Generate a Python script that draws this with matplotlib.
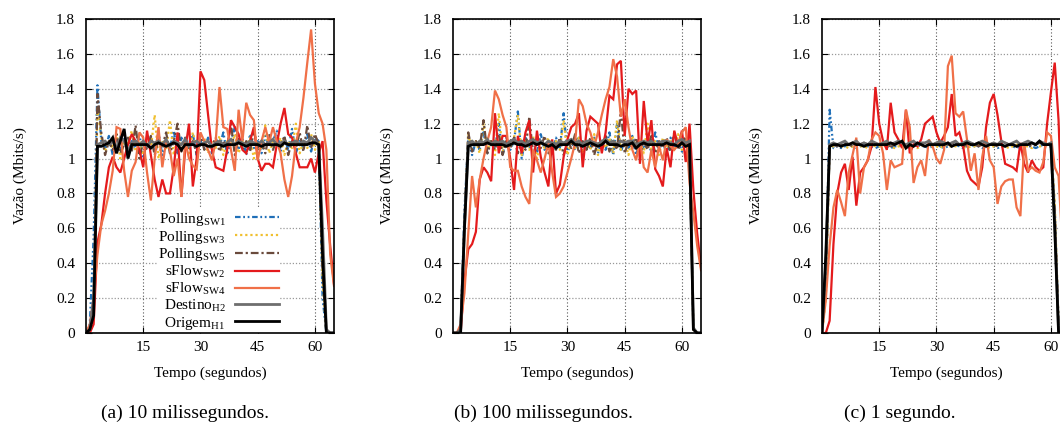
import matplotlib
matplotlib.use("Agg")
import matplotlib.pyplot as plt
from matplotlib.ticker import FuncFormatter

plt.rcParams['font.family'] = ['Liberation Serif', 'DejaVu Serif']
plt.rcParams['mathtext.fontset'] = 'custom'
plt.rcParams['mathtext.rm'] = 'Liberation Serif'
plt.rcParams['mathtext.it'] = 'Liberation Serif:italic'

# Tempo (segundos), amostras de 1 s
tempo = list(range(0, 66))

# ---- (a) 10 milissegundos ----
a_polling_sw1 = [0, 0.05, 0.55, 1.42, 1.1, 1.05, 1.13, 1.02, 1.12, 1.05, 1.15, 1.03, 1.1, 1.06, 1.14, 1.0,
                 1.08, 1.12, 1.04, 1.15, 1.02, 1.1, 1.06, 1.16, 1.03, 1.12, 1.05, 1.09, 1.14, 1.02, 1.1, 1.06,
                 1.12, 1.03, 1.11, 1.07, 1.15, 1.02, 1.1, 1.18, 1.05, 1.12, 1.02, 1.14, 1.06, 1.1, 1.03, 1.13,
                 1.07, 1.1, 1.16, 1.04, 1.12, 1.05, 1.17, 1.03, 1.1, 1.06, 1.14, 1.04, 1.12, 1.1, 0.2, 0, 0, 0]
a_polling_sw3 = [0, 0.02, 0.1, 1.3, 1.12, 1.04, 1.1, 1.06, 1.14, 1.0, 1.1, 1.08, 1.16, 1.04, 1.1, 1.02,
                 1.12, 1.06, 1.25, 1.0, 1.1, 1.05, 1.22, 1.02, 1.12, 1.06, 1.1, 1.03, 1.15, 1.05, 1.09, 1.12,
                 1.03, 1.1, 1.06, 1.13, 1.02, 1.1, 1.07, 1.14, 1.03, 1.1, 1.06, 1.12, 1.0, 1.1, 1.05, 1.19,
                 1.03, 1.1, 1.07, 1.12, 1.02, 1.1, 1.06, 1.2, 1.03, 1.1, 1.06, 1.14, 1.05, 1.1, 0.3, 0, 0, 0]
a_polling_sw5 = [0, 0.02, 0.15, 1.37, 1.15, 1.02, 1.1, 1.05, 1.14, 1.03, 1.08, 1.12, 1.04, 1.19, 1.0, 1.1,
                 1.05, 1.13, 1.02, 1.11, 1.07, 1.15, 1.03, 1.1, 1.2, 1.04, 1.12, 1.06, 1.1, 1.03, 1.14, 1.05,
                 1.1, 1.07, 1.12, 1.04, 1.1, 1.06, 1.2, 1.02, 1.12, 1.05, 1.1, 1.04, 1.16, 1.06, 1.1, 1.03,
                 1.14, 1.05, 1.11, 1.07, 1.13, 1.02, 1.1, 1.06, 1.15, 1.04, 1.19, 1.06, 1.14, 1.08, 0.35, 0, 0, 0]
a_sflow_sw2 = [0, 0, 0.05, 0.52, 0.62, 0.8, 0.95, 1.01, 0.95, 0.92, 1.0, 1.08, 1.14, 1.1, 1.05, 0.95,
               1.16, 1.02, 0.88, 0.78, 0.88, 0.8, 0.8, 0.95, 1.15, 0.78, 1.05, 1.2, 0.84, 1.0, 1.5, 1.45,
               1.25, 1.05, 0.95, 0.94, 0.93, 1.05, 1.22, 1.18, 1.14, 1.05, 1.03, 1.1, 1.18, 1.0, 0.93, 0.97,
               0.97, 0.95, 1.08, 1.2, 1.29, 1.14, 1.12, 1.03, 0.95, 0.95, 0.95, 1.0, 0.92, 1.03, 1.1, 0.76,
               0.5, 0.28]
a_sflow_sw4 = [0, 0.05, 0.2, 0.45, 0.62, 0.7, 0.8, 0.93, 1.18, 1.17, 0.93, 0.78, 0.93, 0.98, 1.15, 1.12,
               0.92, 0.76, 1.0, 1.18, 0.95, 1.1, 1.05, 0.9, 1.0, 0.78, 1.1, 1.0, 0.96, 0.94, 1.15, 1.1,
               1.05, 0.99, 1.1, 1.41, 1.18, 1.17, 1.05, 0.93, 1.28, 1.1, 1.32, 1.25, 1.22, 0.99, 1.1, 1.18,
               1.09, 1.18, 1.1, 1.03, 0.88, 0.78, 0.9, 1.09, 1.18, 1.35, 1.55, 1.74, 1.43, 1.26, 1.2, 1.05,
               0.45, 0.27]
a_destino_h2 = [0, 0.02, 0.2, 1.08, 1.09, 1.1, 1.08, 1.1, 1.06, 1.12, 1.1, 1.04, 1.09, 1.1, 1.08, 1.1,
                1.07, 1.1, 1.09, 1.1, 1.08, 1.11, 1.07, 1.1, 1.09, 1.08, 1.11, 1.07, 1.09, 1.1, 1.08, 1.09,
                1.1, 1.07, 1.09, 1.1, 1.08, 1.09, 1.11, 1.08, 1.1, 1.09, 1.08, 1.1, 1.09, 1.08, 1.1, 1.08,
                1.09, 1.11, 1.08, 1.09, 1.1, 1.08, 1.09, 1.1, 1.08, 1.1, 1.09, 1.12, 1.1, 1.08, 0.6, 0.02, 0, 0]
a_origem_h1 = [0, 0.02, 0.1, 1.07, 1.07, 1.08, 1.09, 1.12, 1.03, 1.1, 1.17, 1.0, 1.08, 1.08, 1.08, 1.08,
               1.08, 1.06, 1.08, 1.09, 1.08, 1.07, 1.08, 1.09, 1.08, 1.05, 1.08, 1.08, 1.08, 1.07, 1.08, 1.08,
               1.07, 1.07, 1.08, 1.08, 1.07, 1.08, 1.08, 1.08, 1.09, 1.08, 1.07, 1.08, 1.08, 1.08, 1.07, 1.08,
               1.08, 1.08, 1.08, 1.07, 1.09, 1.08, 1.08, 1.08, 1.08, 1.08, 1.08, 1.09, 1.09, 1.08, 0.45, 0, 0, 0]

# ---- (b) 100 milissegundos ----
b_polling_sw1 = [0, 0, 0.02, 0.7, 1.12, 1.02, 1.1, 1.05, 1.15, 1.03, 1.1, 1.06, 1.2, 1.02, 1.12, 1.05,
                 1.1, 1.27, 1.0, 1.12, 1.06, 1.1, 1.03, 1.14, 1.05, 1.1, 1.02, 1.12, 1.06, 1.26, 1.03, 1.1,
                 1.05, 1.13, 1.02, 1.1, 1.06, 1.12, 1.03, 1.1, 1.05, 1.15, 1.02, 1.2, 1.04, 1.1, 1.06, 1.13,
                 1.02, 1.1, 1.05, 1.12, 1.03, 1.15, 1.05, 1.1, 1.02, 1.12, 1.06, 1.1, 1.04, 1.12, 1.06, 0.02, 0, 0]
b_polling_sw3 = [0, 0, 0.02, 0.6, 1.14, 1.05, 1.1, 1.03, 1.2, 1.05, 1.1, 1.02, 1.26, 1.04, 1.1, 1.06,
                 1.12, 1.25, 1.02, 1.1, 1.05, 1.13, 1.0, 1.1, 1.06, 1.12, 1.03, 1.1, 1.05, 1.22, 1.02, 1.1,
                 1.06, 1.12, 1.03, 1.1, 1.05, 1.14, 1.02, 1.1, 1.06, 1.12, 1.03, 1.22, 1.05, 1.1, 1.02, 1.13,
                 1.06, 1.1, 1.03, 1.2, 1.05, 1.1, 1.02, 1.12, 1.06, 1.1, 1.04, 1.14, 1.05, 1.1, 1.06, 0.02, 0, 0]
b_polling_sw5 = [0, 0, 0.02, 0.65, 1.15, 1.04, 1.1, 1.06, 1.22, 1.03, 1.1, 1.05, 1.14, 1.02, 1.1, 1.06,
                 1.12, 1.03, 1.1, 1.05, 1.24, 1.02, 1.1, 1.06, 1.13, 1.03, 1.1, 1.05, 1.12, 1.02, 1.1, 1.06,
                 1.14, 1.03, 1.1, 1.05, 1.12, 1.02, 1.1, 1.06, 1.13, 1.04, 1.1, 1.05, 1.28, 1.03, 1.1, 1.06,
                 1.12, 1.02, 1.1, 1.05, 1.13, 1.03, 1.1, 1.06, 1.12, 1.04, 1.15, 1.05, 1.1, 1.12, 1.06, 0.02, 0, 0]
b_sflow_sw2 = [0, 0, 0, 0.3, 0.48, 0.51, 0.58, 0.88, 0.95, 0.92, 0.87, 1.26, 1.03, 1.13, 1.13, 1.0,
               0.82, 1.13, 1.03, 1.15, 1.22, 0.92, 1.16, 1.01, 0.92, 0.84, 1.11, 0.8, 0.85, 1.01, 1.11, 1.18,
               1.2, 1.26, 0.95, 1.16, 1.24, 1.22, 1.2, 1.03, 1.15, 1.36, 1.34, 1.54, 1.56, 1.13, 1.4, 1.37,
               1.39, 0.97, 1.33, 1.09, 1.22, 0.94, 0.9, 0.84, 1.06, 0.95, 1.16, 1.07, 1.16, 0.98, 1.2, 0.82,
               0.57, 0.38]
b_sflow_sw4 = [0, 0, 0.05, 0.23, 0.57, 0.9, 0.72, 0.88, 1.0, 1.1, 1.18, 1.39, 1.34, 1.25, 1.18, 0.95,
               0.93, 0.93, 0.84, 0.78, 0.74, 1.05, 0.99, 0.92, 1.0, 1.09, 0.92, 0.78, 0.8, 0.84, 0.92, 1.0,
               1.09, 1.34, 1.3, 1.2, 1.15, 1.07, 1.15, 1.25, 1.34, 1.41, 1.57, 1.47, 1.24, 1.34, 1.18, 1.05,
               0.99, 1.11, 0.95, 0.92, 1.05, 0.95, 1.07, 0.99, 1.11, 1.07, 1.05, 1.08, 1.15, 1.18, 0.86, 0.69,
               0.5, 0.36]
b_destino_h2 = [0, 0, 0.02, 0.6, 1.09, 1.1, 1.08, 1.1, 1.09, 1.11, 1.08, 1.1, 1.09, 1.1, 1.08, 1.1,
                1.11, 1.09, 1.1, 1.08, 1.1, 1.11, 1.09, 1.1, 1.08, 1.1, 1.09, 1.08, 1.1, 1.09, 1.1, 1.11,
                1.09, 1.1, 1.08, 1.1, 1.1, 1.09, 1.08, 1.1, 1.11, 1.09, 1.1, 1.08, 1.1, 1.09, 1.1, 1.1,
                1.08, 1.09, 1.1, 1.09, 1.1, 1.08, 1.09, 1.1, 1.1, 1.09, 1.08, 1.1, 1.11, 1.09, 1.1, 0.03, 0, 0]
b_origem_h1 = [0, 0, 0, 0.6, 1.07, 1.08, 1.08, 1.08, 1.08, 1.09, 1.08, 1.08, 1.08, 1.08, 1.07, 1.08,
               1.09, 1.08, 1.08, 1.07, 1.08, 1.09, 1.08, 1.09, 1.08, 1.07, 1.08, 1.06, 1.08, 1.08, 1.08, 1.1,
               1.08, 1.08, 1.07, 1.08, 1.09, 1.08, 1.07, 1.08, 1.1, 1.08, 1.08, 1.08, 1.07, 1.08, 1.08, 1.09,
               1.06, 1.08, 1.09, 1.08, 1.08, 1.08, 1.08, 1.08, 1.09, 1.08, 1.08, 1.07, 1.09, 1.07, 1.08, 0.02,
               0, 0]

# ---- (c) 1 segundo ----
c_polling_sw1 = [0, 0.3, 1.28, 1.06, 1.07, 1.06, 1.07, 1.08, 1.07, 1.06, 1.07, 1.08, 1.07, 1.07, 1.06, 1.07,
                 1.08, 1.07, 1.06, 1.07, 1.07, 1.08, 1.07, 1.06, 1.07, 1.08, 1.07, 1.07, 1.06, 1.07, 1.08, 1.07,
                 1.06, 1.07, 1.07, 1.08, 1.07, 1.06, 1.07, 1.08, 1.07, 1.07, 1.06, 1.07, 1.08, 1.07, 1.06, 1.07,
                 1.07, 1.08, 1.07, 1.06, 1.07, 1.08, 1.07, 1.07, 1.06, 1.07, 1.08, 1.07, 1.07, 0.7, 0.05, 0, 0, 0]
c_polling_sw3 = [0, 0.2, 1.07, 1.07, 1.08, 1.07, 1.07, 1.06, 1.07, 1.08, 1.07, 1.07, 1.06, 1.08, 1.07, 1.07,
                 1.07, 1.08, 1.07, 1.06, 1.07, 1.07, 1.08, 1.07, 1.07, 1.06, 1.07, 1.08, 1.07, 1.07, 1.07, 1.06,
                 1.08, 1.07, 1.07, 1.07, 1.08, 1.07, 1.06, 1.07, 1.07, 1.08, 1.07, 1.07, 1.06, 1.07, 1.08, 1.07,
                 1.07, 1.06, 1.07, 1.08, 1.07, 1.07, 1.07, 1.06, 1.08, 1.07, 1.07, 1.07, 1.08, 0.75, 0.05, 0, 0, 0]
c_polling_sw5 = [0, 0.25, 1.08, 1.08, 1.07, 1.08, 1.09, 1.08, 1.07, 1.08, 1.08, 1.09, 1.08, 1.07, 1.08, 1.08,
                 1.09, 1.08, 1.07, 1.08, 1.09, 1.08, 1.08, 1.07, 1.08, 1.09, 1.08, 1.07, 1.08, 1.08, 1.09, 1.08,
                 1.07, 1.08, 1.09, 1.08, 1.08, 1.07, 1.08, 1.09, 1.08, 1.07, 1.08, 1.08, 1.09, 1.08, 1.07, 1.08,
                 1.09, 1.08, 1.08, 1.07, 1.08, 1.09, 1.08, 1.07, 1.08, 1.09, 1.08, 1.08, 1.08, 0.72, 0.05, 0, 0, 0]
c_sflow_sw2 = [0, 0, 0.07, 0.51, 0.8, 0.92, 0.97, 0.82, 1.01, 0.73, 0.92, 0.95, 0.99, 1.07, 1.41, 1.2,
               1.1, 1.05, 1.32, 1.15, 1.11, 1.06, 1.28, 1.03, 1.08, 1.07, 1.11, 1.2, 1.22, 1.24, 1.15, 1.09,
               1.13, 1.18, 1.37, 1.13, 1.15, 1.07, 0.93, 0.88, 0.86, 0.84, 0.95, 1.18, 1.32, 1.37, 1.25, 1.1,
               0.97, 0.96, 0.95, 0.93, 1.09, 0.97, 0.92, 0.99, 0.95, 0.93, 0.95, 1.2, 1.38, 1.55, 1.22, 0.6,
               0.2, 0.05]
c_sflow_sw4 = [0, 0.19, 0.5, 0.72, 0.82, 0.75, 0.67, 0.92, 1.02, 1.12, 0.8, 0.95, 0.99, 1.11, 1.15, 1.13,
               1.03, 0.82, 0.99, 0.95, 0.96, 0.97, 1.28, 1.18, 0.86, 0.95, 0.99, 0.9, 1.11, 1.07, 1.0, 0.97,
               1.05, 1.53, 1.59, 1.26, 1.24, 1.27, 1.11, 0.93, 1.03, 0.82, 1.01, 1.13, 0.99, 0.95, 0.74, 0.84,
               0.87, 0.88, 0.88, 0.72, 0.67, 1.09, 0.93, 0.95, 0.93, 0.92, 0.98, 1.15, 1.13, 0.95, 0.9, 0.5,
               0.2, 0.1]
c_destino_h2 = [0, 0.4, 1.08, 1.09, 1.08, 1.09, 1.1, 1.08, 1.09, 1.1, 1.08, 1.09, 1.08, 1.1, 1.09, 1.08,
                1.09, 1.1, 1.08, 1.09, 1.1, 1.09, 1.08, 1.09, 1.1, 1.08, 1.09, 1.09, 1.1, 1.08, 1.09, 1.1,
                1.09, 1.08, 1.09, 1.1, 1.08, 1.09, 1.1, 1.09, 1.08, 1.09, 1.1, 1.09, 1.08, 1.09, 1.08, 1.1,
                1.09, 1.08, 1.09, 1.1, 1.08, 1.09, 1.1, 1.09, 1.08, 1.1, 1.09, 1.08, 1.09, 0.62, 0.02, 0, 0, 0]
c_origem_h1 = [0, 0.45, 1.07, 1.08, 1.08, 1.07, 1.08, 1.08, 1.09, 1.08, 1.08, 1.07, 1.08, 1.08, 1.08, 1.08,
               1.08, 1.08, 1.09, 1.08, 1.09, 1.1, 1.06, 1.08, 1.07, 1.09, 1.08, 1.07, 1.08, 1.08, 1.08, 1.08,
               1.08, 1.09, 1.07, 1.08, 1.08, 1.08, 1.09, 1.08, 1.08, 1.09, 1.08, 1.07, 1.08, 1.08, 1.08, 1.08,
               1.07, 1.08, 1.08, 1.07, 1.08, 1.08, 1.08, 1.09, 1.08, 1.1, 1.08, 1.08, 1.08, 0.6, 0, 0, 0, 0]

legendas = ["Polling$_{\\mathrm{SW1}}$", "Polling$_{\\mathrm{SW3}}$", "Polling$_{\\mathrm{SW5}}$",
            "sFlow$_{\\mathrm{SW2}}$", "sFlow$_{\\mathrm{SW4}}$", "Destino$_{\\mathrm{H2}}$",
            "Origem$_{\\mathrm{H1}}$"]
legendas_sub = ["(a) 10 milissegundos.", "(b) 100 milissegundos.", "(c) 1 segundo."]

# estilo de cada serie (cor, tracejado, largura)
estilos = [
	dict(color="#1f6fb8", ls=(0, (2.5, 1.2, 0.8, 1.2, 0.8, 1.2)), lw=1.6),
	dict(color="#f0c030", ls=(0, (1, 1.3)), lw=1.6),
	dict(color="#6a4a3c", ls=(0, (3.5, 1.3, 1, 1.3)), lw=1.6),
	dict(color="#e41a1c", ls="-", lw=1.6),
	dict(color="#f07048", ls="-", lw=1.6),
	dict(color="#6e6e6e", ls="-", lw=2.0),
	dict(color="#000000", ls="-", lw=2.0),
]

paineis = [
	[a_polling_sw1, a_polling_sw3, a_polling_sw5, a_sflow_sw2, a_sflow_sw4, a_destino_h2, a_origem_h1],
	[b_polling_sw1, b_polling_sw3, b_polling_sw5, b_sflow_sw2, b_sflow_sw4, b_destino_h2, b_origem_h1],
	[c_polling_sw1, c_polling_sw3, c_polling_sw5, c_sflow_sw2, c_sflow_sw4, c_destino_h2, c_origem_h1],
]

fig = plt.figure(figsize=(10.6, 4.28), dpi=100)
lefts = [86, 453, 822]
centros_sub = [185, 543, 900]

for i, series in enumerate(paineis):
	ax = fig.add_axes([lefts[i] / 1060, 95 / 428, 248 / 1060, 314 / 428])
	for s, est, lab in zip(series, estilos, legendas):
		ax.plot(tempo, s, label=lab, solid_joinstyle="miter", **est)
	ax.set_xlim(0, 65)
	ax.set_ylim(0, 1.8)
	ax.set_xticks([15, 30, 45, 60])
	ax.set_yticks([0, 0.2, 0.4, 0.6, 0.8, 1.0, 1.2, 1.4, 1.6, 1.8])
	ax.yaxis.set_major_formatter(FuncFormatter(lambda v, p: "%g" % round(v, 2)))
	ax.tick_params(direction="in", top=True, right=True, length=4, width=0.8, labelsize=11)
	ax.tick_params(axis="x", pad=6)
	ax.tick_params(axis="y", pad=8)
	ax.set_axisbelow(True)
	ax.grid(True, axis="x", color="#555555", ls=(0, (1, 2)), lw=0.8)
	ax.grid(True, axis="y", color="#999999", ls=(0, (1, 1.5)), lw=0.9)
	for sp in ax.spines.values():
		sp.set_linewidth(1.2)
	ax.set_xlabel("Tempo (segundos)", fontsize=11, labelpad=9)
	ax.set_ylabel("Vazão (Mbits/s)", fontsize=11, labelpad=21)
	fig.text(centros_sub[i] / 1060, 1 - 413 / 428, legendas_sub[i], fontsize=14, ha="center", va="center")
	if i == 0:
		leg = ax.legend(loc="lower right", bbox_to_anchor=(0.815, -0.025), markerfirst=False, fontsize=11,
		                handlelength=2.9, handletextpad=0.6, labelspacing=0.05, borderpad=0.1,
		                frameon=True, fancybox=False, framealpha=1.0, edgecolor="none", facecolor="white")
		# legenda acima das curvas, mas abaixo das bordas do eixo
		leg.set_zorder(2.4)

plt.savefig("out.png", dpi=100)
